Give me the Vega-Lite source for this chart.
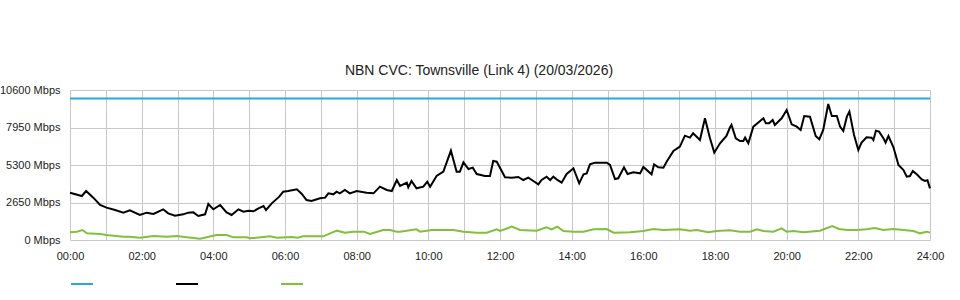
{
  "$schema": "https://vega.github.io/schema/vega-lite/v6.json",
  "width": 860,
  "height": 150,
  "autosize": "none",
  "padding": {"left": 70, "top": 90, "right": 30, "bottom": 60},
  "background": "white",
  "title": {"text": "NBN CVC: Townsville (Link 4) (20/03/2026)", "font": "Liberation Sans", "fontSize": 14, "fontWeight": "normal", "color": "#222222", "offset": 6, "dx": -21},
  "config": {
    "view": {"stroke": null},
    "axis": {"gridColor": "#c8c8c8", "gridWidth": 1, "gridOpacity": 1, "domain": false, "ticks": false, "labelFont": "Liberation Sans", "labelFontSize": 11, "labelColor": "#222222"}
  },
  "datasets": {
    "series": [
      {"s": "Capacity", "t": 0, "v": 10000},
      {"s": "Capacity", "t": 24, "v": 10000},
      {"s": "Download", "t": 0, "v": 3345}, {"s": "Download", "t": 0.33, "v": 3110}, {"s": "Download", "t": 0.45, "v": 3463}, {"s": "Download", "t": 0.65, "v": 2990}, {"s": "Download", "t": 0.84, "v": 2473}, {"s": "Download", "t": 1.02, "v": 2285}, {"s": "Download", "t": 1.26, "v": 2120}, {"s": "Download", "t": 1.49, "v": 1932}, {"s": "Download", "t": 1.67, "v": 2096}, {"s": "Download", "t": 1.95, "v": 1767}, {"s": "Download", "t": 2.14, "v": 1932}, {"s": "Download", "t": 2.33, "v": 1837}, {"s": "Download", "t": 2.6, "v": 2167}, {"s": "Download", "t": 2.74, "v": 1884}, {"s": "Download", "t": 2.93, "v": 1720}, {"s": "Download", "t": 3.16, "v": 1814}, {"s": "Download", "t": 3.3, "v": 1932}, {"s": "Download", "t": 3.44, "v": 1955}, {"s": "Download", "t": 3.58, "v": 1696}, {"s": "Download", "t": 3.77, "v": 1814}, {"s": "Download", "t": 3.86, "v": 2544}, {"s": "Download", "t": 4.0, "v": 2167}, {"s": "Download", "t": 4.19, "v": 2473}, {"s": "Download", "t": 4.37, "v": 1955}, {"s": "Download", "t": 4.51, "v": 1767}, {"s": "Download", "t": 4.7, "v": 2167}, {"s": "Download", "t": 4.84, "v": 2002}, {"s": "Download", "t": 4.98, "v": 2073}, {"s": "Download", "t": 5.12, "v": 2026}, {"s": "Download", "t": 5.26, "v": 2238}, {"s": "Download", "t": 5.4, "v": 2403}, {"s": "Download", "t": 5.47, "v": 2120}, {"s": "Download", "t": 5.63, "v": 2591}, {"s": "Download", "t": 5.84, "v": 3062}, {"s": "Download", "t": 5.95, "v": 3416}, {"s": "Download", "t": 6.09, "v": 3463}, {"s": "Download", "t": 6.33, "v": 3580}, {"s": "Download", "t": 6.47, "v": 3251}, {"s": "Download", "t": 6.6, "v": 2827}, {"s": "Download", "t": 6.74, "v": 2756}, {"s": "Download", "t": 6.98, "v": 2944}, {"s": "Download", "t": 7.12, "v": 2992}, {"s": "Download", "t": 7.21, "v": 3298}, {"s": "Download", "t": 7.35, "v": 3227}, {"s": "Download", "t": 7.44, "v": 3416}, {"s": "Download", "t": 7.53, "v": 3298}, {"s": "Download", "t": 7.67, "v": 3533}, {"s": "Download", "t": 7.81, "v": 3298}, {"s": "Download", "t": 8.0, "v": 3463}, {"s": "Download", "t": 8.28, "v": 3345}, {"s": "Download", "t": 8.47, "v": 3298}, {"s": "Download", "t": 8.65, "v": 3769}, {"s": "Download", "t": 8.84, "v": 3533}, {"s": "Download", "t": 8.98, "v": 3463}, {"s": "Download", "t": 9.12, "v": 4240}, {"s": "Download", "t": 9.21, "v": 3816}, {"s": "Download", "t": 9.4, "v": 4052}, {"s": "Download", "t": 9.44, "v": 3722}, {"s": "Download", "t": 9.53, "v": 4169}, {"s": "Download", "t": 9.67, "v": 3651}, {"s": "Download", "t": 9.86, "v": 3769}, {"s": "Download", "t": 9.97, "v": 4122}, {"s": "Download", "t": 10.05, "v": 3769}, {"s": "Download", "t": 10.23, "v": 4523}, {"s": "Download", "t": 10.42, "v": 4829}, {"s": "Download", "t": 10.63, "v": 6313}, {"s": "Download", "t": 10.79, "v": 4829}, {"s": "Download", "t": 10.88, "v": 4829}, {"s": "Download", "t": 10.98, "v": 5488}, {"s": "Download", "t": 11.12, "v": 5017}, {"s": "Download", "t": 11.24, "v": 5112}, {"s": "Download", "t": 11.35, "v": 4664}, {"s": "Download", "t": 11.58, "v": 4523}, {"s": "Download", "t": 11.72, "v": 4523}, {"s": "Download", "t": 11.81, "v": 5583}, {"s": "Download", "t": 11.91, "v": 5536}, {"s": "Download", "t": 12.14, "v": 4429}, {"s": "Download", "t": 12.33, "v": 4405}, {"s": "Download", "t": 12.51, "v": 4452}, {"s": "Download", "t": 12.65, "v": 4240}, {"s": "Download", "t": 12.79, "v": 4405}, {"s": "Download", "t": 12.93, "v": 4169}, {"s": "Download", "t": 13.07, "v": 3934}, {"s": "Download", "t": 13.16, "v": 4240}, {"s": "Download", "t": 13.3, "v": 4476}, {"s": "Download", "t": 13.4, "v": 4240}, {"s": "Download", "t": 13.49, "v": 4476}, {"s": "Download", "t": 13.58, "v": 4287}, {"s": "Download", "t": 13.72, "v": 4052}, {"s": "Download", "t": 13.86, "v": 4664}, {"s": "Download", "t": 14.05, "v": 5065}, {"s": "Download", "t": 14.21, "v": 4005}, {"s": "Download", "t": 14.33, "v": 4641}, {"s": "Download", "t": 14.42, "v": 4711}, {"s": "Download", "t": 14.51, "v": 5347}, {"s": "Download", "t": 14.65, "v": 5465}, {"s": "Download", "t": 14.98, "v": 5465}, {"s": "Download", "t": 15.07, "v": 5300}, {"s": "Download", "t": 15.21, "v": 4311}, {"s": "Download", "t": 15.3, "v": 4358}, {"s": "Download", "t": 15.46, "v": 5135}, {"s": "Download", "t": 15.56, "v": 4664}, {"s": "Download", "t": 15.72, "v": 4782}, {"s": "Download", "t": 15.91, "v": 4711}, {"s": "Download", "t": 16.0, "v": 5160}, {"s": "Download", "t": 16.23, "v": 4641}, {"s": "Download", "t": 16.3, "v": 5347}, {"s": "Download", "t": 16.42, "v": 5135}, {"s": "Download", "t": 16.56, "v": 5112}, {"s": "Download", "t": 16.65, "v": 5536}, {"s": "Download", "t": 16.84, "v": 6289}, {"s": "Download", "t": 17.02, "v": 6596}, {"s": "Download", "t": 17.16, "v": 7373}, {"s": "Download", "t": 17.3, "v": 7232}, {"s": "Download", "t": 17.39, "v": 7538}, {"s": "Download", "t": 17.58, "v": 7067}, {"s": "Download", "t": 17.72, "v": 8598}, {"s": "Download", "t": 17.86, "v": 7185}, {"s": "Download", "t": 17.98, "v": 6172}, {"s": "Download", "t": 18.14, "v": 6831}, {"s": "Download", "t": 18.32, "v": 7350}, {"s": "Download", "t": 18.42, "v": 7962}, {"s": "Download", "t": 18.46, "v": 8127}, {"s": "Download", "t": 18.58, "v": 7185}, {"s": "Download", "t": 18.7, "v": 6996}, {"s": "Download", "t": 18.79, "v": 6996}, {"s": "Download", "t": 18.84, "v": 7232}, {"s": "Download", "t": 18.93, "v": 6831}, {"s": "Download", "t": 19.07, "v": 8009}, {"s": "Download", "t": 19.26, "v": 8409}, {"s": "Download", "t": 19.35, "v": 8598}, {"s": "Download", "t": 19.42, "v": 8245}, {"s": "Download", "t": 19.51, "v": 8245}, {"s": "Download", "t": 19.61, "v": 8480}, {"s": "Download", "t": 19.67, "v": 8127}, {"s": "Download", "t": 19.86, "v": 8598}, {"s": "Download", "t": 20.0, "v": 9187}, {"s": "Download", "t": 20.14, "v": 8174}, {"s": "Download", "t": 20.28, "v": 8009}, {"s": "Download", "t": 20.39, "v": 7774}, {"s": "Download", "t": 20.49, "v": 8763}, {"s": "Download", "t": 20.65, "v": 8716}, {"s": "Download", "t": 20.81, "v": 7350}, {"s": "Download", "t": 20.91, "v": 7114}, {"s": "Download", "t": 21.02, "v": 7774}, {"s": "Download", "t": 21.16, "v": 9611}, {"s": "Download", "t": 21.26, "v": 8763}, {"s": "Download", "t": 21.4, "v": 8763}, {"s": "Download", "t": 21.49, "v": 8009}, {"s": "Download", "t": 21.58, "v": 7703}, {"s": "Download", "t": 21.68, "v": 8716}, {"s": "Download", "t": 21.75, "v": 9069}, {"s": "Download", "t": 21.88, "v": 7420}, {"s": "Download", "t": 22.0, "v": 6360}, {"s": "Download", "t": 22.09, "v": 6878}, {"s": "Download", "t": 22.23, "v": 7255}, {"s": "Download", "t": 22.37, "v": 7232}, {"s": "Download", "t": 22.42, "v": 7067}, {"s": "Download", "t": 22.49, "v": 7726}, {"s": "Download", "t": 22.58, "v": 7656}, {"s": "Download", "t": 22.7, "v": 7185}, {"s": "Download", "t": 22.76, "v": 6878}, {"s": "Download", "t": 22.84, "v": 7350}, {"s": "Download", "t": 22.98, "v": 6549}, {"s": "Download", "t": 23.12, "v": 5300}, {"s": "Download", "t": 23.26, "v": 4947}, {"s": "Download", "t": 23.35, "v": 4476}, {"s": "Download", "t": 23.44, "v": 4523}, {"s": "Download", "t": 23.52, "v": 4876}, {"s": "Download", "t": 23.63, "v": 4641}, {"s": "Download", "t": 23.77, "v": 4287}, {"s": "Download", "t": 23.86, "v": 4169}, {"s": "Download", "t": 23.93, "v": 4217}, {"s": "Download", "t": 24.0, "v": 3651},
      {"s": "Upload", "t": 0, "v": 542}, {"s": "Upload", "t": 0.19, "v": 589}, {"s": "Upload", "t": 0.35, "v": 707}, {"s": "Upload", "t": 0.47, "v": 471}, {"s": "Upload", "t": 0.84, "v": 424}, {"s": "Upload", "t": 1.02, "v": 353}, {"s": "Upload", "t": 1.49, "v": 236}, {"s": "Upload", "t": 1.67, "v": 236}, {"s": "Upload", "t": 1.95, "v": 165}, {"s": "Upload", "t": 2.33, "v": 283}, {"s": "Upload", "t": 2.7, "v": 236}, {"s": "Upload", "t": 2.98, "v": 283}, {"s": "Upload", "t": 3.26, "v": 188}, {"s": "Upload", "t": 3.63, "v": 94}, {"s": "Upload", "t": 3.81, "v": 188}, {"s": "Upload", "t": 4.09, "v": 353}, {"s": "Upload", "t": 4.37, "v": 353}, {"s": "Upload", "t": 4.56, "v": 188}, {"s": "Upload", "t": 4.93, "v": 188}, {"s": "Upload", "t": 5.02, "v": 118}, {"s": "Upload", "t": 5.58, "v": 259}, {"s": "Upload", "t": 5.77, "v": 165}, {"s": "Upload", "t": 6.19, "v": 212}, {"s": "Upload", "t": 6.35, "v": 165}, {"s": "Upload", "t": 6.5, "v": 259}, {"s": "Upload", "t": 7.07, "v": 259}, {"s": "Upload", "t": 7.26, "v": 471}, {"s": "Upload", "t": 7.45, "v": 660}, {"s": "Upload", "t": 7.67, "v": 518}, {"s": "Upload", "t": 7.91, "v": 589}, {"s": "Upload", "t": 8.2, "v": 589}, {"s": "Upload", "t": 8.37, "v": 424}, {"s": "Upload", "t": 8.74, "v": 707}, {"s": "Upload", "t": 8.93, "v": 707}, {"s": "Upload", "t": 9.12, "v": 589}, {"s": "Upload", "t": 9.21, "v": 589}, {"s": "Upload", "t": 9.67, "v": 754}, {"s": "Upload", "t": 9.77, "v": 589}, {"s": "Upload", "t": 10.1, "v": 707}, {"s": "Upload", "t": 10.7, "v": 707}, {"s": "Upload", "t": 10.98, "v": 589}, {"s": "Upload", "t": 11.35, "v": 518}, {"s": "Upload", "t": 11.63, "v": 518}, {"s": "Upload", "t": 11.91, "v": 754}, {"s": "Upload", "t": 12.0, "v": 636}, {"s": "Upload", "t": 12.33, "v": 942}, {"s": "Upload", "t": 12.56, "v": 707}, {"s": "Upload", "t": 13.02, "v": 660}, {"s": "Upload", "t": 13.3, "v": 895}, {"s": "Upload", "t": 13.44, "v": 754}, {"s": "Upload", "t": 13.6, "v": 942}, {"s": "Upload", "t": 13.77, "v": 636}, {"s": "Upload", "t": 14.05, "v": 589}, {"s": "Upload", "t": 14.33, "v": 589}, {"s": "Upload", "t": 14.61, "v": 754}, {"s": "Upload", "t": 14.98, "v": 777}, {"s": "Upload", "t": 15.17, "v": 518}, {"s": "Upload", "t": 15.63, "v": 542}, {"s": "Upload", "t": 16.0, "v": 636}, {"s": "Upload", "t": 16.28, "v": 777}, {"s": "Upload", "t": 16.56, "v": 707}, {"s": "Upload", "t": 17.02, "v": 754}, {"s": "Upload", "t": 17.3, "v": 660}, {"s": "Upload", "t": 17.49, "v": 707}, {"s": "Upload", "t": 17.81, "v": 542}, {"s": "Upload", "t": 18.05, "v": 636}, {"s": "Upload", "t": 18.42, "v": 683}, {"s": "Upload", "t": 18.7, "v": 589}, {"s": "Upload", "t": 18.98, "v": 589}, {"s": "Upload", "t": 19.17, "v": 754}, {"s": "Upload", "t": 19.35, "v": 636}, {"s": "Upload", "t": 19.63, "v": 589}, {"s": "Upload", "t": 19.86, "v": 824}, {"s": "Upload", "t": 20.0, "v": 589}, {"s": "Upload", "t": 20.19, "v": 636}, {"s": "Upload", "t": 20.47, "v": 542}, {"s": "Upload", "t": 20.93, "v": 660}, {"s": "Upload", "t": 21.27, "v": 989}, {"s": "Upload", "t": 21.46, "v": 777}, {"s": "Upload", "t": 21.68, "v": 707}, {"s": "Upload", "t": 21.96, "v": 707}, {"s": "Upload", "t": 22.23, "v": 754}, {"s": "Upload", "t": 22.46, "v": 848}, {"s": "Upload", "t": 22.7, "v": 707}, {"s": "Upload", "t": 22.98, "v": 777}, {"s": "Upload", "t": 23.26, "v": 707}, {"s": "Upload", "t": 23.54, "v": 636}, {"s": "Upload", "t": 23.72, "v": 471}, {"s": "Upload", "t": 23.91, "v": 589}, {"s": "Upload", "t": 24.0, "v": 518}
    ]
  },
  "data": {"name": "series"},
  "mark": {"type": "line", "strokeWidth": 2},
  "encoding": {
    "x": {
      "field": "t", "type": "quantitative",
      "scale": {"domain": [0, 24], "nice": false, "zero": false},
      "axis": {"title": null, "values": [0,1,2,3,4,5,6,7,8,9,10,11,12,13,14,15,16,17,18,19,20,21,22,23,24], "labelExpr": "datum.value % 2 == 0 ? ((datum.value < 10 ? '0' : '') + datum.value + ':00') : ''", "labelPadding": 10, "labelFlush": false, "labelOverlap": false}
    },
    "y": {
      "field": "v", "type": "quantitative",
      "scale": {"domain": [0, 10600], "nice": false},
      "axis": {"title": null, "values": [0, 2650, 5300, 7950, 10600], "labelExpr": "datum.value + ' Mbps'", "labelPadding": 10}
    },
    "color": {
      "field": "s", "type": "nominal",
      "scale": {"domain": ["Capacity", "Download", "Upload"], "range": ["#29a8e0", "#000000", "#80c03a"]},
      "legend": {"orient": "none", "legendX": 0, "legendY": 182, "direction": "horizontal", "title": null, "symbolType": "stroke", "symbolSize": 484, "symbolStrokeWidth": 2, "labelExpr": "''", "labelOffset": 4, "columnPadding": 74}
    }
  }
}
